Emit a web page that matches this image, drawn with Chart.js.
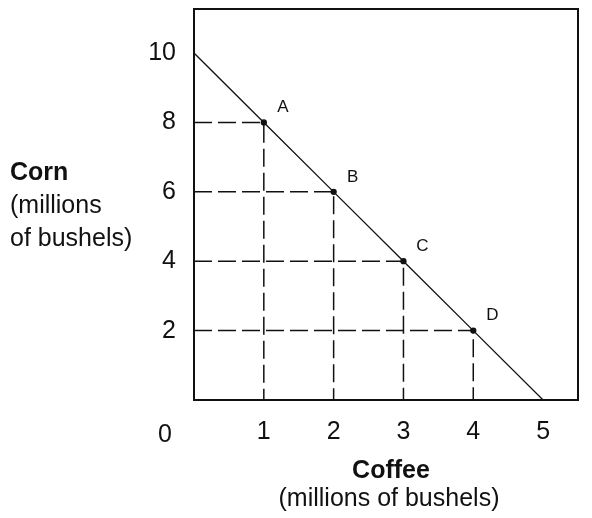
<!DOCTYPE html>
<html>
<head>
<meta charset="utf-8">
<script src="https://cdn.jsdelivr.net/npm/chart.js@4/dist/chart.umd.min.js"></script>
<style>
  html, body { margin: 0; padding: 0; background: #fff; }
  #ppf { display: block; }
</style>
</head>
<body>
<canvas id="ppf" width="592" height="518"></canvas>
<script>
// production possibilities: coffee vs corn
const coffee = [0, 1, 2, 3, 4, 5];
const corn = [10, 8, 6, 4, 2, 0];
const pointNames = ['', 'A', 'B', 'C', 'D', ''];
const xTickValues = [1, 2, 3, 4, 5];
const yTickValues = [2, 4, 6, 8, 10];

const FONT = 'Liberation Sans, Arial, sans-serif';
const INK = '#111';

const frontier = coffee.map((c, i) => ({ x: c, y: corn[i] }));

// dashed guides from each labelled point to both axes
const guides = [];
pointNames.forEach((name, i) => {
    if (!name) return;
    guides.push({
        data: [{ x: 0, y: corn[i] }, { x: coffee[i], y: corn[i] }, { x: coffee[i], y: 0 }],
        borderColor: INK,
        borderWidth: 1.5,
        borderDash: [18, 6],
        pointRadius: 0,
        fill: false
    });
});

const extras = {
    id: 'extras',
    afterDraw(chart) {
        const { ctx, chartArea: a } = chart;
        ctx.save();
        // frame
        ctx.strokeStyle = INK;
        ctx.lineWidth = 2;
        ctx.strokeRect(a.left, a.top, a.right - a.left, a.bottom - a.top);

        // point letters
        const meta = chart.getDatasetMeta(0);
        ctx.fillStyle = INK;
        ctx.font = '17px ' + FONT;
        ctx.textAlign = 'center';
        ctx.textBaseline = 'middle';
        meta.data.forEach((pt, i) => {
            if (pointNames[i]) ctx.fillText(pointNames[i], pt.x + 19, pt.y - 15);
        });

        // origin label
        ctx.font = '25px ' + FONT;
        ctx.textBaseline = 'alphabetic';
        ctx.fillText('0', a.left - 29, 442);

        // y axis title
        ctx.textAlign = 'left';
        ctx.font = 'bold 25px ' + FONT;
        ctx.fillText('Corn', 10, 180);
        ctx.font = '25px ' + FONT;
        ctx.fillText('(millions', 10, 213);
        ctx.fillText('of bushels)', 10, 246);

        // x axis title
        const cx = (a.left + a.right) / 2;
        ctx.textAlign = 'center';
        ctx.font = 'bold 25px ' + FONT;
        ctx.fillText('Coffee', cx + 5, 478);
        ctx.font = '25px ' + FONT;
        ctx.fillText('(millions of bushels)', cx + 3, 506);
        ctx.restore();
    }
};

new Chart(document.getElementById('ppf').getContext('2d'), {
    type: 'line',
    data: {
        datasets: [{
            data: frontier,
            borderColor: INK,
            borderWidth: 1.3,
            pointRadius: pointNames.map(n => (n ? 2.5 : 0)),
            pointBackgroundColor: INK,
            pointBorderColor: INK,
            fill: false
        }, ...guides]
    },
    options: {
        responsive: false,
        animation: false,
        layout: { padding: { top: 9, right: 14, left: 0, bottom: 0 } },
        plugins: { legend: { display: false }, tooltip: { enabled: false } },
        scales: {
            x: {
                type: 'linear',
                min: 0,
                max: 5.5,
                grid: { display: false, drawTicks: false, tickLength: 0 },
                border: { display: false },
                afterBuildTicks: (s) => { s.ticks = xTickValues.map(v => ({ value: v })); },
                afterFit: (s) => { s.height = 118; s.paddingLeft = 0; s.paddingRight = 0; },
                ticks: {
                    padding: 17,
                    color: INK,
                    font: { family: FONT, size: 25 },
                    maxRotation: 0
                }
            },
            y: {
                type: 'linear',
                min: 0,
                max: 11.27,
                grid: { display: false, drawTicks: false, tickLength: 0 },
                border: { display: false },
                afterBuildTicks: (s) => { s.ticks = yTickValues.map(v => ({ value: v })); },
                afterFit: (s) => { s.width = 194; s.paddingTop = 0; s.paddingBottom = 0; },
                ticks: {
                    padding: 18,
                    color: INK,
                    font: { family: FONT, size: 25 }
                }
            }
        }
    },
    plugins: [extras]
});
</script>
</body>
</html>
